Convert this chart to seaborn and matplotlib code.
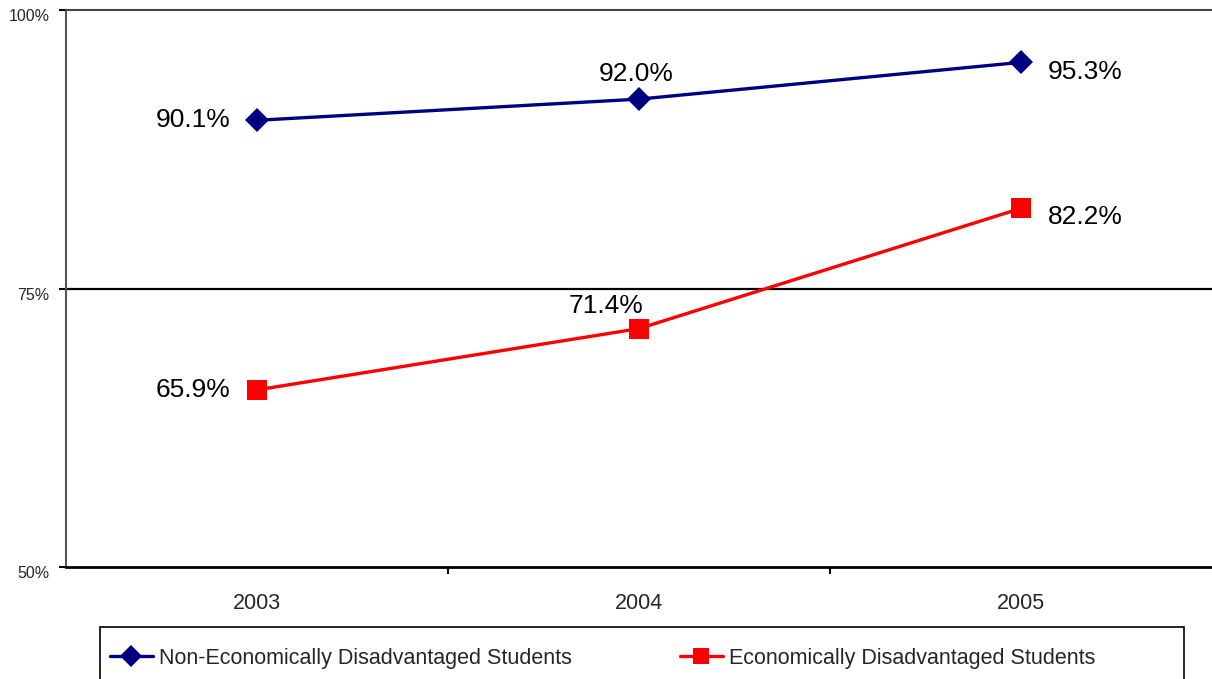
import matplotlib
matplotlib.use("Agg")
import matplotlib.pyplot as plt
import matplotlib.transforms as mtransforms
from matplotlib.patches import Rectangle
from matplotlib.lines import Line2D
import seaborn as sns
import numpy as np
import pandas as pd
from matplotlib.ticker import FixedLocator

years = ["2003", "2004", "2005"]
non_econ = [90.1, 92.0, 95.3]
econ = [65.9, 71.4, 82.2]
series_names = ["Non-Economically Disadvantaged Students", "Economically Disadvantaged Students"]
y_ticks = [50, 75, 100]
y_tick_labels = ["50%", "75%", "100%"]

sns.set_theme(style="white")
FONT = ["Liberation Sans Narrow", "Liberation Sans", "DejaVu Sans"]
plt.rcParams["font.family"] = FONT

pos = np.arange(len(years))
df = pd.DataFrame({
    "x": np.concatenate([pos, pos]),
    "value": non_econ + econ,
    "series": [series_names[0]] * len(years) + [series_names[1]] * len(years),
})

fig = plt.figure(figsize=(12.12, 6.79), dpi=100)
ax = fig.add_axes([66 / 1212, 1 - 567 / 679, 1 - 66 / 1212, (567 - 10) / 679])

sns.lineplot(data=df, x="x", y="value", hue="series", style="series",
             palette={series_names[0]: "#000080", series_names[1]: "#FF0000"},
             markers={series_names[0]: "D", series_names[1]: "s"},
             dashes=False, linewidth=2.4, ax=ax, legend=False)
lines = ax.get_lines()
lines[0].set_markersize(12.5)
lines[1].set_markersize(14)
for ln in lines:
    ln.set_markeredgewidth(0)

ax.set_xlim(-0.5, 2.5)
ax.set_ylim(50, 100)
ax.set_xlabel("")
ax.set_ylabel("")
ax.set_xticks(pos)
ax.set_xticklabels(years, fontsize=15.5)
ax.xaxis.set_minor_locator(FixedLocator([0.5, 1.5]))
ax.tick_params(axis="x", which="major", length=0, pad=19)
ax.tick_params(axis="x", which="minor", length=5, width=1.5, color="black", direction="out", bottom=True)
ax.set_yticks(y_ticks)
ax.set_yticklabels(y_tick_labels, fontsize=11.5)
ax.tick_params(axis="y", which="major", length=5, width=1.5, color="black", direction="out", left=True, pad=7)
shift = mtransforms.ScaledTranslation(0, -5 / 100, fig.dpi_scale_trans)
for lab in ax.get_yticklabels():
    lab.set_transform(lab.get_transform() + shift)

ax.axhline(75, color="black", lw=1.6, zorder=1)
ax.spines["right"].set_visible(False)
ax.spines["top"].set_color("#444444")
ax.spines["top"].set_linewidth(1.5)
ax.spines["left"].set_color("#555555")
ax.spines["left"].set_linewidth(1.5)
ax.spines["bottom"].set_color("black")
ax.spines["bottom"].set_linewidth(2)

# data labels
fs = 19
offs_non = [(-19, 0, "right"), (-2, 18, "center"), (19, -7, "left")]
offs_econ = [(-19, 0, "right"), (-24, 16, "center"), (19, -6, "left")]
for i, v in enumerate(non_econ):
    dx, dy, ha = offs_non[i]
    ax.annotate(f"{v:.1f}%", (pos[i], v), xytext=(dx, dy), textcoords="offset points",
                ha=ha, va="center", fontsize=fs, color="black")
for i, v in enumerate(econ):
    dx, dy, ha = offs_econ[i]
    ax.annotate(f"{v:.1f}%", (pos[i], v), xytext=(dx, dy), textcoords="offset points",
                ha=ha, va="center", fontsize=fs, color="black")

# legend
fig.patches.append(Rectangle((100 / 1212, -0.05), 1084 / 1212, 0.05 + (1 - 627 / 679),
                             transform=fig.transFigure, fill=False, edgecolor="black",
                             linewidth=1.2, zorder=0))
handles = [
    Line2D([], [], color="#000080", marker="D", markersize=11, lw=2.4, markeredgewidth=0),
    Line2D([], [], color="#FF0000", marker="s", markersize=12, lw=2.4, markeredgewidth=0),
]
leg = fig.legend(handles, series_names, loc="upper left",
                 bbox_to_anchor=(100 / 1212, 1 - 638 / 679),
                 ncol=2, fontsize=15.5, frameon=False,
                 handlelength=2.0, handletextpad=0.3, borderaxespad=0, borderpad=0.45,
                 columnspacing=5.0)

fig.savefig("out.png", dpi=100)
